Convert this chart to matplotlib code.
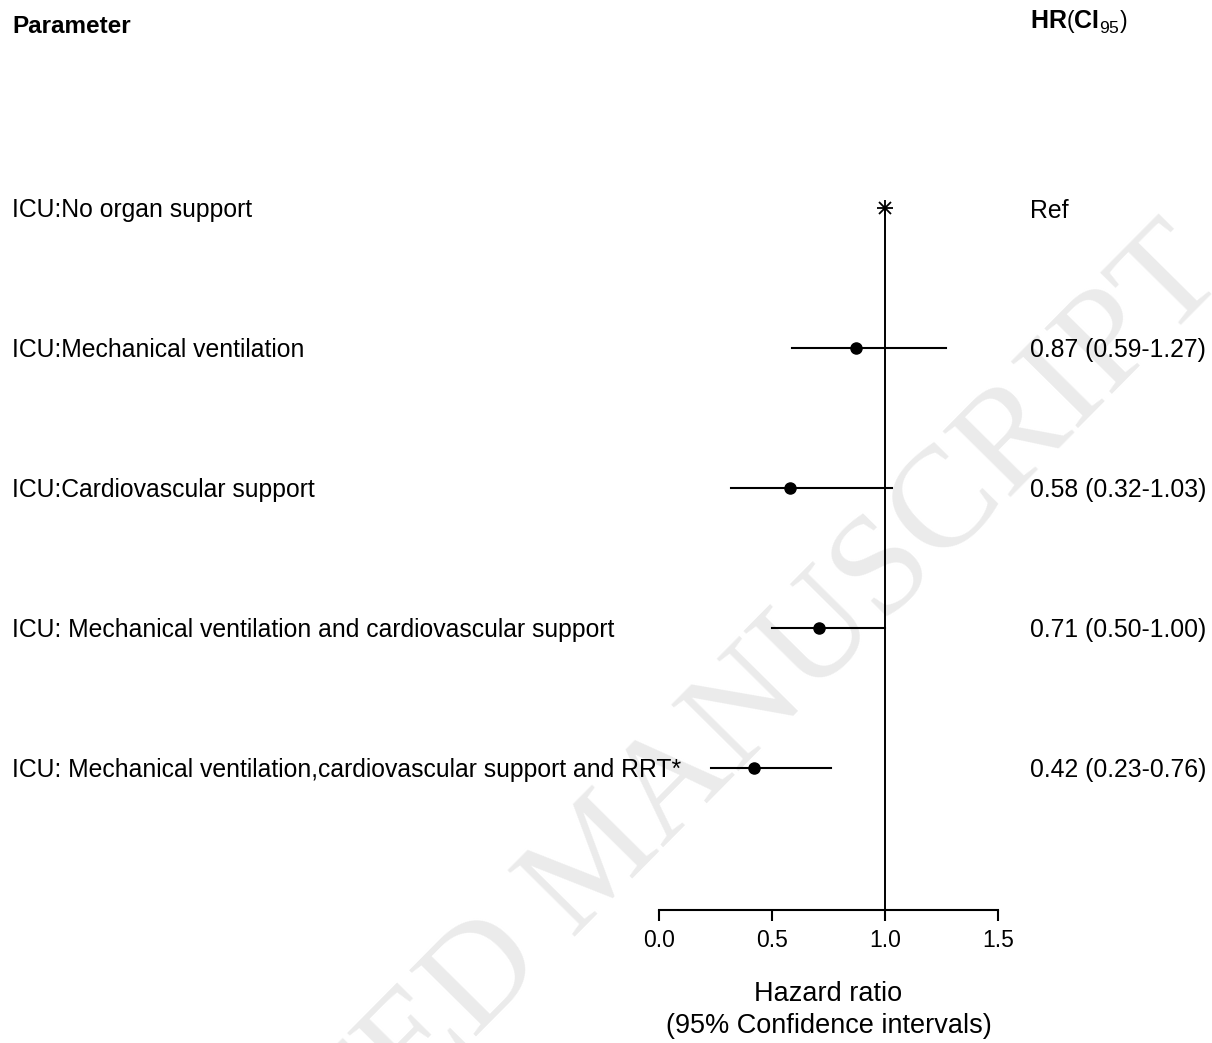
import matplotlib.pyplot as plt
import matplotlib.transforms as mtransforms

plt.rcParams['font.family'] = ['Liberation Sans', 'DejaVu Sans']
plt.rcParams['mathtext.fontset'] = 'custom'
plt.rcParams['mathtext.rm'] = 'Liberation Sans'
plt.rcParams['mathtext.bf'] = 'Liberation Sans:bold'

# data
params = ['ICU:No organ support',
          'ICU:Mechanical ventilation',
          'ICU:Cardiovascular support',
          'ICU: Mechanical ventilation and cardiovascular support',
          'ICU: Mechanical ventilation,cardiovascular support and RRT*']
hr = [1.0, 0.87, 0.58, 0.71, 0.42]
lo = [None, 0.59, 0.32, 0.50, 0.23]
hi = [None, 1.27, 1.03, 1.00, 0.76]
hr_text = ['Ref', '0.87 (0.59-1.27)', '0.58 (0.32-1.03)',
           '0.71 (0.50-1.00)', '0.42 (0.23-0.76)']
xticks = [0.0, 0.5, 1.0, 1.5]

W, H = 1212, 1043
fig = plt.figure(figsize=(W / 100, H / 100), dpi=100)

# watermark (behind everything)
fig.text(600 / W, 1 - 862 / H, 'ACCEPTED MANUSCRIPT', rotation=45.3,
         ha='center', va='center', fontsize=104, color='#ebebeb',
         family='Liberation Serif', zorder=-1)

# axes: x 0..1.5 maps to px 659..998, rows at px 208 + 140*i
ax_top, ax_bot = 68, 910
ax = fig.add_axes([659 / W, 1 - ax_bot / H, 339 / W, (ax_bot - ax_top) / H])
ax.patch.set_alpha(0)
ybot = (ax_bot - 208) / 140
ax.set_xlim(0, 1.5)
ax.set_ylim(ybot, (ax_top - 208) / 140)
for s in ['top', 'right', 'left']:
    ax.spines[s].set_visible(False)
ax.spines['bottom'].set_linewidth(1.5)
ax.spines['bottom'].set_bounds(0, 1.5)
ax.set_yticks([])
ax.set_xticks(xticks)
ax.set_xticklabels(['%.1f' % t for t in xticks])
ax.tick_params(axis='x', direction='out', length=8, width=1.5,
               labelsize=16.5, pad=6)

ax.plot([1, 1], [0, ybot], color='black', lw=1.4, clip_on=False)

for i in range(len(params)):
    if lo[i] is None:
        ax.plot(hr[i], i, marker='+', ms=12, mew=1.3, color='black', clip_on=False)
        ax.plot(hr[i], i, marker='x', ms=9, mew=1.3, color='black', clip_on=False)
    else:
        ax.plot([lo[i], hi[i]], [i, i], color='black', lw=1.5, clip_on=False)
        ax.plot(hr[i], i, marker='o', ms=8, color='black', clip_on=False)
    fig.text(12 / W, 1 - (208 + 140 * i) / H, params[i], fontsize=17.8,
             va='center_baseline', ha='left')
    fig.text(1030 / W, 1 - (208 + 140 * i) / H, hr_text[i], fontsize=17.8,
             va='center_baseline', ha='left')

fig.text(12 / W, 1 - 24 / H, 'Parameter', fontsize=17.5, fontweight='bold',
         va='center_baseline', ha='left')
fig.text(1030 / W, 1 - 22 / H, r'$\mathbf{HR}\left(\mathbf{CI}_{\mathrm{95}}\right)$',
         fontsize=18, va='center', ha='left')

trans = mtransforms.blended_transform_factory(ax.transData, fig.transFigure)
ax.text(0.75, 1 - 1010 / H, 'Hazard ratio\n(95% Confidence intervals)',
        transform=trans, ha='center', va='center', fontsize=19.5, linespacing=1.3)

fig.savefig('out.png', dpi=100)
